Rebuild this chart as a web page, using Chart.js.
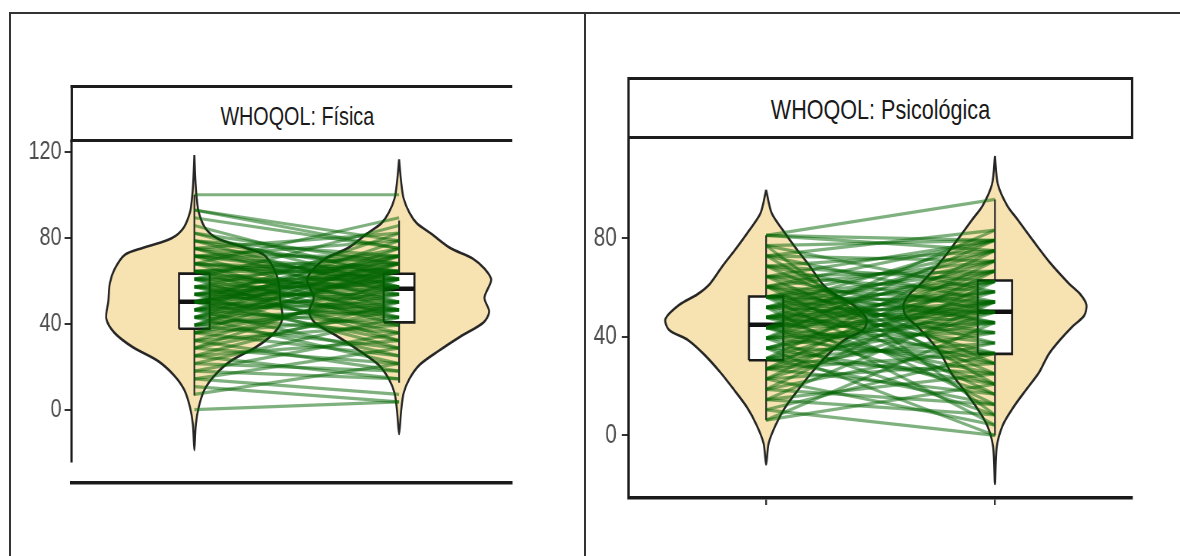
<!DOCTYPE html>
<html>
<head>
<meta charset="utf-8">
<title>WHOQOL</title>
<script src="https://cdn.jsdelivr.net/npm/chart.js@4.4.1/dist/chart.umd.min.js"></script>
<style>
  html, body { margin: 0; padding: 0; background: #fff; width: 1180px; height: 556px; overflow: hidden; }
  body { position: relative; font-family: 'Liberation Sans', Arial, Helvetica, sans-serif; }
  .rule { position: absolute; background: #333; }
  .panel { position: absolute; top: 0; height: 556px; transform-origin: 0 0; }
  .panel canvas { position: absolute; left: 0; top: 0; }
  .strip { position: absolute; box-sizing: border-box; border: 3px solid #1c1c1c; background: #fff; }
  .strip-text { position: absolute; white-space: nowrap; color: #1a1a1a; line-height: 1; transform: translate(-50%, -50%); }
</style>
</head>
<body>
<div class="rule" style="left:9px; top:12px; width:1171px; height:2px;"></div>
<div class="rule" style="left:9px; top:12px; width:1.5px; height:544px;"></div>
<div class="rule" style="left:584px; top:12px; width:1.5px; height:544px;"></div>

<script>
// WHOQOL domain scores per participant: baseline (x = 1) and follow-up (x = 2)
const fisicaPre = [
  0, 7.1, 10.7, 14.3, 14.3, 17.9, 17.9, 21.4, 21.4, 25.0, 25.0, 25.0, 28.6, 28.6, 28.6,
  32.1, 32.1, 32.1, 35.7, 35.7, 35.7, 35.7, 39.3, 39.3, 39.3, 39.3, 39.3,
  42.9, 42.9, 42.9, 42.9, 42.9, 42.9, 46.4, 46.4, 46.4, 46.4, 46.4, 46.4, 46.4,
  50.0, 50.0, 50.0, 50.0, 50.0, 50.0, 50.0, 50.0, 50.0,
  53.6, 53.6, 53.6, 53.6, 53.6, 53.6, 57.1, 57.1, 57.1, 57.1, 57.1, 57.1,
  60.7, 60.7, 60.7, 60.7, 60.7, 60.7, 64.3, 64.3, 64.3, 64.3, 64.3, 64.3,
  67.9, 67.9, 67.9, 67.9, 67.9, 71.4, 71.4, 71.4, 71.4, 71.4,
  75.0, 75.0, 75.0, 75.0, 78.6, 78.6, 78.6, 82.1, 82.1, 85.7, 89.3, 92.9, 92.9, 100
];
const fisicaPost = [
  3.6, 21.4, 3.6, 7.1, 28.6, 14.3, 35.7, 17.9, 42.9, 14.3, 32.1, 50.0, 21.4, 46.4, 60.7,
  17.9, 39.3, 57.1, 25.0, 42.9, 53.6, 67.9, 28.6, 46.4, 50.0, 64.3, 71.4,
  21.4, 35.7, 46.4, 57.1, 64.3, 75.0, 25.0, 39.3, 50.0, 53.6, 60.7, 67.9, 78.6,
  32.1, 42.9, 46.4, 57.1, 60.7, 64.3, 67.9, 71.4, 82.1,
  28.6, 46.4, 53.6, 60.7, 64.3, 71.4, 35.7, 42.9, 50.0, 57.1, 64.3, 75.0,
  32.1, 46.4, 57.1, 60.7, 67.9, 85.7, 39.3, 50.0, 53.6, 64.3, 67.9, 71.4,
  42.9, 57.1, 60.7, 64.3, 89.3, 46.4, 60.7, 64.3, 71.4, 78.6,
  50.0, 57.1, 67.9, 82.1, 53.6, 64.3, 71.4, 57.1, 67.9, 60.7, 75.0, 78.6, 75.0, 100
];
const psicoPre = [
  6.2, 6.2, 10.4, 10.4, 14.5, 14.5, 14.5, 18.7, 18.7, 18.7, 22.9, 22.9, 22.9, 22.9,
  27.0, 27.0, 27.0, 27.0, 27.0, 31.2, 31.2, 31.2, 31.2, 31.2, 31.2,
  35.4, 35.4, 35.4, 35.4, 35.4, 35.4, 39.5, 39.5, 39.5, 39.5, 39.5, 39.5, 39.5,
  43.7, 43.7, 43.7, 43.7, 43.7, 43.7, 43.7, 43.7, 43.7, 43.7,
  47.9, 47.9, 47.9, 47.9, 47.9, 47.9, 47.9, 47.9,
  52.0, 52.0, 52.0, 52.0, 52.0, 52.0, 52.0, 52.0,
  56.2, 56.2, 56.2, 56.2, 56.2, 56.2, 56.2, 56.2,
  60.4, 60.4, 60.4, 60.4, 60.4, 60.4, 64.5, 64.5, 64.5, 64.5, 64.5,
  68.7, 68.7, 68.7, 68.7, 72.9, 72.9, 72.9, 72.9, 77.0, 77.0, 77.0, 81.2, 81.2, 81.2
];
const psicoPost = [
  20.8, 45.8, 0, 33.3, 8.3, 25.0, 54.2, 12.5, 37.5, 62.5, 4.2, 29.2, 50.0, 66.7,
  16.7, 33.3, 41.7, 54.2, 70.8, 12.5, 25.0, 37.5, 45.8, 58.3, 75.0,
  0, 20.8, 33.3, 50.0, 54.2, 62.5, 8.3, 29.2, 41.7, 45.8, 54.2, 66.7, 79.2,
  16.7, 25.0, 33.3, 45.8, 50.0, 54.2, 58.3, 62.5, 70.8, 83.3,
  20.8, 37.5, 41.7, 50.0, 54.2, 58.3, 66.7, 75.0,
  4.2, 29.2, 45.8, 50.0, 58.3, 62.5, 70.8, 79.2,
  12.5, 33.3, 41.7, 50.0, 54.2, 62.5, 66.7, 75.0,
  16.7, 37.5, 45.8, 54.2, 70.8, 79.2, 25.0, 45.8, 58.3, 66.7, 79.2,
  29.2, 50.0, 62.5, 75.0, 20.8, 54.2, 70.8, 83.3, 8.3, 58.3, 79.2, 95.8, 79.2, 75.0
];

// Box-plot summaries: [lower whisker, Q1, median, Q3, upper whisker]
const fisicaBoxPre = [6.5, 37.6, 50.2, 63.3, 100];
const fisicaBoxPost = [12.5, 40.6, 56.3, 63.2, 88];
const psicoBoxPre = [6.2, 30.5, 44.9, 56.4, 81.2];
const psicoBoxPost = [0, 33.1, 50.2, 62.9, 95.8];

// Violin outlines: score grid and half-width (category units)
const fisicaViolinPreY = [118.5, 105, 98, 92, 85, 81, 78.6, 75.3, 72, 65.3, 58.7, 50.5, 42.3, 35.7, 29, 22.5, 16, 9.3, 1, -7.2, -18.8];
const fisicaViolinPreW = [0, 0.006, 0.012, 0.021, 0.05, 0.09, 0.14, 0.25, 0.34, 0.39, 0.413, 0.42, 0.43, 0.39, 0.30, 0.176, 0.10, 0.05, 0.021, 0.007, 0];
const fisicaViolinPostY = [116.5, 106, 98.3, 91.7, 86.8, 81.8, 75.2, 70.3, 65.3, 60.4, 52.1, 45.6, 40.6, 34, 27.4, 20.8, 14.2, 7.6, -0.6, -11.4];
const fisicaViolinPostW = [0, 0.01, 0.022, 0.05, 0.086, 0.158, 0.25, 0.36, 0.42, 0.45, 0.417, 0.44, 0.413, 0.30, 0.195, 0.10, 0.05, 0.022, 0.01, 0];
const psicoViolinPreY = [99.7, 90.3, 83.2, 76, 68.8, 61.6, 57.3, 53, 47.3, 42.9, 38.6, 32.8, 25.6, 18.5, 11.2, 4.1, -3.2, -11.8];
const psicoViolinPreW = [0, 0.024, 0.074, 0.13, 0.19, 0.245, 0.30, 0.38, 0.44, 0.425, 0.34, 0.27, 0.20, 0.14, 0.082, 0.041, 0.011, 0];
const psicoViolinPostY = [113.4, 101.9, 93.2, 87.5, 78.9, 70.2, 61.6, 57.3, 53, 48.6, 44.3, 38.6, 32.8, 25.6, 18.5, 11.2, 4.1, -4.6, -19.7];
const psicoViolinPostW = [0, 0.013, 0.054, 0.10, 0.168, 0.24, 0.324, 0.373, 0.40, 0.39, 0.34, 0.283, 0.234, 0.193, 0.136, 0.079, 0.034, 0.008, 0];

// Axis ticks and facet titles
const fisicaTicks = [0, 40, 80, 120];
const psicoTicks = [0, 40, 80];
const groups = [1, 2];
const fisicaTitle = 'WHOQOL: Física';
const psicoTitle = 'WHOQOL: Psicológica';

// Page layout of each facet (pixels), kept apart from the data
const fisicaLayout = {
  left: 0, right: 584, s: 0.76,
  area: { l: 71.5, r: 512, t: 140, b: 483 },
  xRange: [0.4, 2.55], yRange: [-34.2, 125.5], yAxisEnd: -24.6,
  tickFont: 26, tickLen: 7, tickPad: 3, xTickMarks: false,
  strip: { l: 71.5, r: 512, t: 86, b: 140, closed: false, textX: 297.3, textY: 115.5, font: 26 }
};
const psicoLayout = {
  left: 585, right: 1180, s: 0.77,
  area: { l: 628.8, r: 1132, t: 140, b: 498 },
  xRange: [0.4, 2.6], yRange: [-25.4, 119.9], yAxisEnd: null,
  tickFont: 27, tickLen: 7, tickPad: 5, xTickMarks: true,
  strip: { l: 628.8, r: 1132, t: 78.7, b: 137.6, closed: true, textX: 880.5, textY: 110, font: 28 }
};

const GREEN = 'rgba(0, 100, 0, 0.5)';
const VIOLIN_FILL = '#F7E2B2';
const INK = '#262626';
const BOX_HALF = 0.075;

Chart.defaults.font.family = "'Liberation Sans', Arial, Helvetica, sans-serif";
Chart.defaults.elements.point.radius = 0;
Chart.defaults.elements.point.hoverRadius = 0;

// Draws the y axis line down to a chosen value instead of the full plot height
const axisStub = {
  id: 'axisStub',
  afterDraw(chart, args, opts) {
    if (opts.end === null || opts.end === undefined) return;
    const { ctx, chartArea, scales } = chart;
    ctx.save();
    ctx.strokeStyle = opts.color;
    ctx.lineWidth = opts.width;
    ctx.beginPath();
    ctx.moveTo(chartArea.left, chartArea.top);
    ctx.lineTo(chartArea.left, scales.y.getPixelForValue(opts.end));
    ctx.stroke();
    ctx.restore();
  }
};

function violinPoints(cx, ys, ws) {
  const leftSide = ys.map((y, i) => ({ x: cx - ws[i], y }));
  const rightSide = ys.map((y, i) => ({ x: cx + ws[i], y })).reverse();
  return leftSide.concat(rightSide.slice(1));
}

function boxDatasets(cx, stats) {
  const [lo, q1, med, q3, hi] = stats;
  return [
    { data: [{ x: cx - BOX_HALF, y: med }, { x: cx + BOX_HALF, y: med }],
      borderColor: '#111', borderWidth: 4.5, order: 1 },
    { data: [{ x: cx - BOX_HALF, y: q1 }, { x: cx + BOX_HALF, y: q1 }, { x: cx + BOX_HALF, y: q3 },
             { x: cx - BOX_HALF, y: q3 }, { x: cx - BOX_HALF, y: q1 }],
      borderColor: '#1a1a1a', borderWidth: 2.6, backgroundColor: '#ffffff', fill: 'shape', order: 2 },
    { data: [{ x: cx, y: q3 }, { x: cx, y: hi }], borderColor: INK, borderWidth: 2.2, order: 2 },
    { data: [{ x: cx, y: lo }, { x: cx, y: q1 }], borderColor: INK, borderWidth: 2.2, order: 2 }
  ];
}

function buildPanel(L, pre, post, boxPre, boxPost, vPre, vPost, ticks, title) {
  const widthU = (L.right - L.left) / L.s;
  const u = x => (x - L.left) / L.s;

  const wrap = document.createElement('div');
  wrap.className = 'panel';
  wrap.style.left = L.left + 'px';
  wrap.style.width = widthU + 'px';
  wrap.style.transform = 'scaleX(' + L.s + ')';
  document.body.appendChild(wrap);

  // facet strip
  const st = L.strip;
  const strip = document.createElement('div');
  strip.className = 'strip';
  strip.style.left = (u(st.l) - 1.5) + 'px';
  strip.style.top = (st.t - 1.5) + 'px';
  strip.style.width = (u(st.r) - u(st.l) + (st.closed ? 3 : 1.5)) + 'px';
  strip.style.height = (st.b - st.t + 3) + 'px';
  if (!st.closed) strip.style.borderRight = 'none';
  wrap.appendChild(strip);
  const label = document.createElement('div');
  label.className = 'strip-text';
  label.style.left = u(st.textX) + 'px';
  label.style.top = st.textY + 'px';
  label.style.fontSize = st.font + 'px';
  label.textContent = title;
  wrap.appendChild(label);

  const canvas = document.createElement('canvas');
  canvas.width = Math.round(widthU);
  canvas.height = 556;
  wrap.appendChild(canvas);

  const datasets = [];
  // paired trajectories, one line per participant
  pre.forEach((v, i) => {
    datasets.push({
      data: [{ x: groups[0], y: v }, { x: groups[1], y: post[i] }],
      borderColor: GREEN, borderWidth: 3.2, order: 0
    });
  });
  datasets.push(...boxDatasets(groups[0], boxPre));
  datasets.push(...boxDatasets(groups[1], boxPost));
  [[groups[0], vPre], [groups[1], vPost]].forEach(([cx, v]) => {
    datasets.push({
      data: violinPoints(cx, v[0], v[1]),
      borderColor: INK, borderWidth: 2.6, backgroundColor: VIOLIN_FILL,
      fill: 'shape', tension: 0.3, order: 3
    });
  });

  new Chart(canvas, {
    type: 'line',
    data: { datasets },
    plugins: [axisStub],
    options: {
      responsive: false,
      animation: false,
      events: [],
      layout: {
        padding: { left: 0, top: L.area.t, right: widthU - u(L.area.r), bottom: 0 }
      },
      plugins: {
        legend: { display: false },
        tooltip: { enabled: false },
        axisStub: { end: L.yAxisEnd, color: '#1a1a1a', width: 3 }
      },
      scales: {
        x: {
          type: 'linear', min: L.xRange[0], max: L.xRange[1],
          afterBuildTicks: sc => { sc.ticks = groups.map(v => ({ value: v })); },
          afterFit: sc => { sc.height = 556 - L.area.b; },
          ticks: { display: false },
          grid: { display: L.xTickMarks, drawOnChartArea: false, drawTicks: true,
                  tickLength: 7, color: '#333', lineWidth: 2.4 },
          border: { display: true, color: '#1a1a1a', width: 3.5 }
        },
        y: {
          type: 'linear', min: L.yRange[0], max: L.yRange[1],
          afterBuildTicks: sc => { sc.ticks = ticks.map(v => ({ value: v })); },
          afterFit: sc => { sc.width = u(L.area.l); },
          ticks: { color: '#4D4D4D', font: { size: L.tickFont }, padding: L.tickPad / L.s },
          grid: { display: true, drawOnChartArea: false, drawTicks: true,
                  tickLength: L.tickLen / L.s, color: '#333', lineWidth: 2 },
          border: { display: L.yAxisEnd === null, color: '#1a1a1a', width: 3 }
        }
      }
    }
  });
}

buildPanel(fisicaLayout, fisicaPre, fisicaPost, fisicaBoxPre, fisicaBoxPost,
  [fisicaViolinPreY, fisicaViolinPreW], [fisicaViolinPostY, fisicaViolinPostW], fisicaTicks, fisicaTitle);
buildPanel(psicoLayout, psicoPre, psicoPost, psicoBoxPre, psicoBoxPost,
  [psicoViolinPreY, psicoViolinPreW], [psicoViolinPostY, psicoViolinPostW], psicoTicks, psicoTitle);
</script>
</body>
</html>
